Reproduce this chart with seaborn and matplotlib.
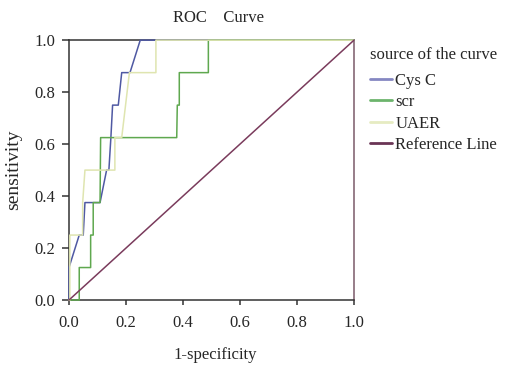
import pandas as pd
import seaborn as sns
import matplotlib.pyplot as plt

# ROC curve points
cys_x = [0.0, 0.0, 0.036, 0.05, 0.056, 0.109, 0.132, 0.14, 0.147, 0.153, 0.173, 0.185, 0.214, 0.25, 1.0]
cys_y = [0.0, 0.125, 0.25, 0.25, 0.375, 0.375, 0.5, 0.5, 0.625, 0.75, 0.75, 0.875, 0.875, 1.0, 1.0]

scr_x = [0.0, 0.036, 0.036, 0.076, 0.076, 0.085, 0.085, 0.109, 0.111, 0.378, 0.38, 0.387, 0.387, 0.489, 0.489, 1.0]
scr_y = [0.0, 0.0, 0.125, 0.125, 0.25, 0.25, 0.375, 0.375, 0.625, 0.625, 0.75, 0.75, 0.875, 0.875, 1.0, 1.0]

uaer_x = [0.0, 0.003, 0.003, 0.048, 0.048, 0.056, 0.161, 0.161, 0.185, 0.212, 0.305, 0.305, 1.0]
uaer_y = [0.0, 0.0, 0.25, 0.25, 0.375, 0.5, 0.5, 0.625, 0.625, 0.875, 0.875, 1.0, 1.0]

ref_x = [0.0, 1.0]
ref_y = [0.0, 1.0]

curve_names = ["Cys C", "scr", "UAER", "Reference Line"]
ticks = [0.0, 0.2, 0.4, 0.6, 0.8, 1.0]
tick_labels = ["0.0", "0.2", "0.4", "0.6", "0.8", "1.0"]

frames = []
for name, xs, ys in zip(curve_names, [cys_x, scr_x, uaer_x, ref_x], [cys_y, scr_y, uaer_y, ref_y]):
    frames.append(pd.DataFrame({"fpr": xs, "tpr": ys, "curve": name}))
df = pd.concat(frames, ignore_index=True)

sns.set_style("ticks")
plt.rcParams['font.family'] = ['Liberation Serif', 'DejaVu Serif']
plt.rcParams['font.size'] = 12

palette = {"Cys C": "#4f59a3", "scr": "#5fa84f", "UAER": "#dfe5b0", "Reference Line": "#7a3b5c"}

fig = plt.figure(figsize=(5.05, 3.65), dpi=100)
ax = fig.add_axes([0.1366, 0.178, 0.5644, 0.712])

sns.lineplot(data=df, x="fpr", y="tpr", hue="curve", hue_order=curve_names,
             palette=palette, sort=False, estimator=None, units="curve",
             linewidth=1.1, ax=ax)
for ln in ax.lines:
    ln.set_clip_on(False)
    ln.set_zorder(5)

ax.set_xlim(0, 1)
ax.set_ylim(0, 1)
ax.set_xticks(ticks)
ax.set_xticklabels(tick_labels)
ax.set_yticks(ticks)
ax.set_yticklabels(tick_labels)
ax.tick_params(axis="y", direction="out", length=5, width=1.1, color="#333333", labelsize=12, pad=5)
ax.tick_params(axis="x", direction="out", length=3.5, width=1.1, color="#333333", labelsize=12, pad=7)
for side in ["left", "bottom", "top", "right"]:
    ax.spines[side].set_color("#333333")
    ax.spines[side].set_linewidth(1.1)
ax.spines["right"].set_color("#7a5a6a")
ax.set_xlabel("")
ax.set_ylabel("")

fig.text(0.432, 0.951, "ROC    Curve", ha="center", va="center", fontsize=12)
fig.text(0.426, 0.027, "1-specificity", ha="center", va="center", fontsize=12)
fig.text(0.026, 0.534, "sensitivity", ha="center", va="center", rotation=90, fontsize=14)

# legend title as separate text, entries below it
fig.text(0.733, 1 - 55 / 365, "source of the curve", ha="left", va="center", fontsize=12)

handles, labels = ax.get_legend_handles_labels()
ax.get_legend().remove()
leg = ax.legend(handles, labels, loc="upper left",
                bbox_to_anchor=(0.733, 1 - 73 / 365), bbox_transform=fig.transFigure,
                frameon=False, fontsize=12,
                handlelength=1.3, handletextpad=0.2, labelspacing=0.32,
                borderaxespad=0, borderpad=0)
legend_colors = {"Cys C": "#8587c2", "scr": "#6cb46c", "UAER": "#e6ebc2", "Reference Line": "#6a3455"}
for h, lab in zip(leg.get_lines(), labels):
    h.set_linewidth(2)
    h.set_color(legend_colors[lab])

fig.savefig("out.png", dpi=100)
